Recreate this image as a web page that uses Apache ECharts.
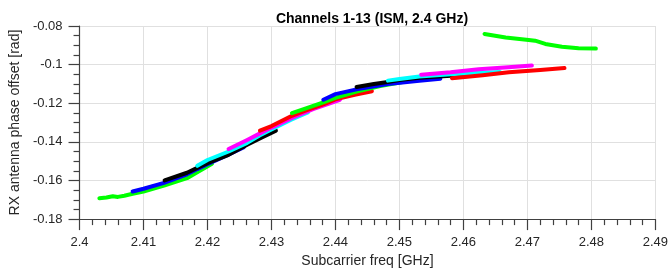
<!DOCTYPE html>
<html><head><meta charset="utf-8">
<script src="https://cdn.jsdelivr.net/npm/echarts@6/dist/echarts.min.js"></script>
<style>html,body{margin:0;padding:0;background:#fff}#c{width:671px;height:273px}</style>
</head><body><div id="c"></div>
<script>
// Tick values
const xTicks = [2.4, 2.41, 2.42, 2.43, 2.44, 2.45, 2.46, 2.47, 2.48, 2.49];
const yTicks = [-0.18, -0.16, -0.14, -0.12, -0.1, -0.08];

// Channel data: [freq GHz, phase offset rad]
const ch01 = [[2.4031,-0.1692],[2.4042,-0.1688],[2.4052,-0.1682],[2.4060,-0.1685],[2.4070,-0.1679],[2.4083,-0.1669],[2.4100,-0.1657],[2.4132,-0.1627],[2.4168,-0.1588],[2.4184,-0.1558],[2.4207,-0.1514]];
const ch02 = [[2.4083,-0.1657],[2.4100,-0.1643],[2.4132,-0.1612],[2.4168,-0.1568],[2.4184,-0.1541],[2.4200,-0.1516],[2.4230,-0.1470],[2.4257,-0.1427]];
const ch03 = [[2.4133,-0.1600],[2.4168,-0.1560],[2.4184,-0.1535],[2.4200,-0.1510],[2.4233,-0.1467],[2.4262,-0.1415],[2.4285,-0.1377],[2.4307,-0.1342]];
const ch04 = [[2.4184,-0.1524],[2.4200,-0.1494],[2.4233,-0.1450],[2.4262,-0.1405],[2.4282,-0.1366],[2.4300,-0.1336],[2.4330,-0.1287],[2.4357,-0.1248]];
const ch05 = [[2.4233,-0.1437],[2.4262,-0.1390],[2.4282,-0.1356],[2.4300,-0.1326],[2.4332,-0.1276],[2.4365,-0.1231],[2.4407,-0.1182]];
const ch06 = [[2.4282,-0.1342],[2.4300,-0.1318],[2.4332,-0.1265],[2.4355,-0.1236],[2.4381,-0.1206],[2.4400,-0.1180],[2.4430,-0.1156],[2.4457,-0.1138]];
const ch07 = [[2.4332,-0.1251],[2.4355,-0.1225],[2.4381,-0.1195],[2.4400,-0.1172],[2.4433,-0.1139],[2.4470,-0.1111],[2.4505,-0.1090]];
const ch08 = [[2.4381,-0.1182],[2.4400,-0.1153],[2.4433,-0.1128],[2.4482,-0.1101],[2.4531,-0.1083],[2.4564,-0.1073]];
const ch09 = [[2.4433,-0.1116],[2.4460,-0.1100],[2.4482,-0.1090],[2.4500,-0.1080],[2.4531,-0.1068],[2.4593,-0.1055],[2.4607,-0.1052]];
const ch10 = [[2.4482,-0.1083],[2.4500,-0.1074],[2.4531,-0.1062],[2.4580,-0.1050],[2.4629,-0.1042],[2.4657,-0.1038]];
const ch11 = [[2.4534,-0.1052],[2.4580,-0.1040],[2.4624,-0.1024],[2.4670,-0.1013],[2.4707,-0.1005]];
const ch12 = [[2.4582,-0.1070],[2.4630,-0.1055],[2.4671,-0.1040],[2.4720,-0.1028],[2.4758,-0.1018]];
const ch13 = [[2.4633,-0.0841],[2.4666,-0.0860],[2.4702,-0.0872],[2.4712,-0.0876],[2.4728,-0.0893],[2.4754,-0.0907],[2.4780,-0.0915],[2.4807,-0.0917]];

const channels = [ch01,ch02,ch03,ch04,ch05,ch06,ch07,ch08,ch09,ch10,ch11,ch12,ch13];
const colors = ['#00ff00','#0000ff','#000000','#00ffff','#ff00ff','#ff0000'];

const font = 'Liberation Sans, Arial, sans-serif';
const chart = echarts.init(document.getElementById('c'), null, {renderer:'canvas'});
chart.setOption({
  animation: false,
  title: {text: 'Channels 1-13 (ISM, 2.4 GHz)', left: 367, top: 7, textAlign: 'center',
    textStyle: {fontFamily: font, fontSize: 14, fontWeight: 'bold', color: '#000'}},
  grid: {left: 78, right: 14, top: 26, bottom: 53, containLabel: false},
  xAxis: {
    type: 'value', min: xTicks[0], max: xTicks[xTicks.length-1], interval: 0.01,
    name: 'Subcarrier freq [GHz]', nameLocation: 'middle', nameGap: 34,
    nameTextStyle: {fontFamily: font, fontSize: 14, color: '#262626'},
    axisLine: {show: true, onZero: false, lineStyle: {color: '#404040', width: 1.2}},
    axisTick: {show: true, inside: false, length: 11, lineStyle: {color: '#404040', width: 1.2}},
    minorTick: {show: true, splitNumber: 5, length: 6, lineStyle: {color: '#404040', width: 1.2}},
    splitLine: {show: true, lineStyle: {color: '#e0e0e0', width: 1}},
    axisLabel: {fontFamily: font, fontSize: 13, color: '#262626', margin: 17,
      formatter: v => String(Math.round(v*100)/100)}
  },
  yAxis: {
    type: 'value', min: yTicks[0], max: yTicks[yTicks.length-1], interval: 0.02,
    name: 'RX antenna phase offset [rad]', nameLocation: 'middle', nameGap: 56,
    nameTextStyle: {fontFamily: font, fontSize: 14, color: '#262626'},
    axisLine: {show: true, onZero: false, lineStyle: {color: '#404040', width: 1.2}},
    axisTick: {show: true, inside: false, length: 11, lineStyle: {color: '#404040', width: 1.2}},
    minorTick: {show: true, splitNumber: 4, length: 6, lineStyle: {color: '#404040', width: 1.2}},
    splitLine: {show: true, lineStyle: {color: '#e0e0e0', width: 1}},
    axisLabel: {fontFamily: font, fontSize: 13, color: '#262626', margin: 17,
      formatter: v => String(Math.round(v*100)/100)}
  },
  series: channels.map((d, i) => ({
    type: 'line', data: d, showSymbol: false, smooth: false,
    lineStyle: {color: colors[i % colors.length], width: 4, cap: 'round', join: 'round'},
    itemStyle: {color: colors[i % colors.length]}
  }))
});
</script></body></html>
